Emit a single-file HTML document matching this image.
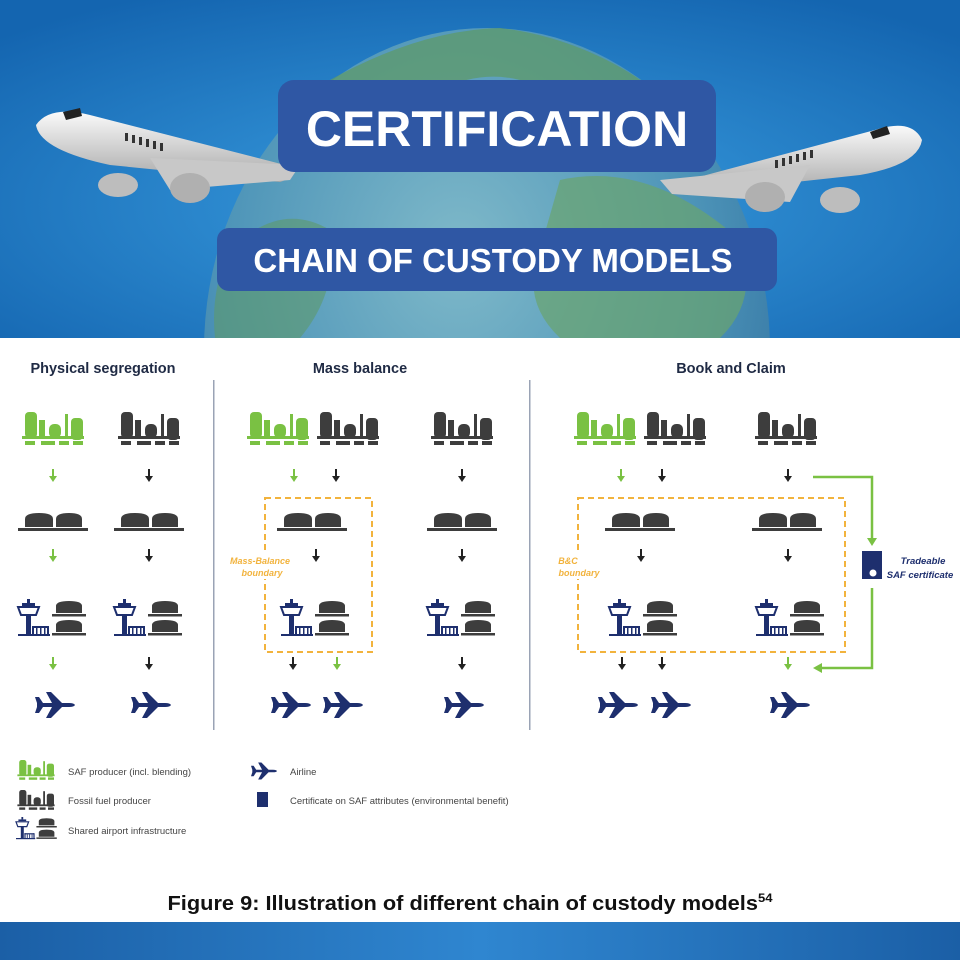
<!DOCTYPE html>
<html><head><meta charset="utf-8"><style>
html,body{margin:0;padding:0;background:#fff}
body{width:960px;height:960px;overflow:hidden;position:relative;font-family:"Liberation Sans",sans-serif}
</style></head><body>
<svg width="960" height="960" viewBox="0 0 960 960" xmlns="http://www.w3.org/2000/svg" style="position:absolute;left:0;top:0">
<defs>
<radialGradient id="sky" cx="0.5" cy="0.6" r="0.7">
<stop offset="0" stop-color="#3a9ee0"/><stop offset="1" stop-color="#1465b0"/></radialGradient>
<radialGradient id="globe" cx="0.45" cy="0.35" r="0.7">
<stop offset="0" stop-color="#7fb9c9"/><stop offset="0.6" stop-color="#4d94b8"/><stop offset="1" stop-color="#2f6e9e"/></radialGradient>
<linearGradient id="bot" x1="0" x2="1"><stop offset="0" stop-color="#1b5fa6"/><stop offset="0.5" stop-color="#2f86d0"/><stop offset="1" stop-color="#1b5fa6"/></linearGradient>
<linearGradient id="pl" x1="0" y1="0" x2="0" y2="1"><stop offset="0" stop-color="#fafafa"/><stop offset="1" stop-color="#a8a8a8"/></linearGradient>
<g id="fac">
<rect x="-28" y="0" width="12" height="26" rx="4"/>
<rect x="-14" y="8" width="6" height="18"/>
<rect x="-4" y="12" width="12" height="14" rx="5"/>
<rect x="12" y="2" width="3" height="24"/>
<rect x="18" y="6" width="12" height="22" rx="4"/>
<rect x="-31" y="24" width="62" height="3"/>
<rect x="-28" y="29" width="10" height="4"/><rect x="-12" y="29" width="14" height="4"/><rect x="6" y="29" width="10" height="4"/><rect x="20" y="29" width="10" height="4"/>
</g>
<g id="tanks" fill="#3d3d3d">
<path d="M-28,14 L-28,6 Q-28,0 -14,0 Q0,0 0,6 L0,14Z"/>
<path d="M3,14 L3,6 Q3,0 16,0 Q29,0 29,6 L29,14Z"/>
<rect x="-35" y="15" width="70" height="3"/>
</g>
<g id="tank1" fill="#3d3d3d">
<path d="M-13,12 L-13,5 Q-13,0 0,0 Q13,0 13,5 L13,12Z"/>
<rect x="-17" y="13" width="34" height="2.5"/>
</g>
<g id="air">
<g fill="#1e2f6e">
<rect x="-26" y="0" width="3" height="4"/>
<rect x="-31" y="4" width="13" height="3"/>
<path d="M-35,8 H-14 L-17,16 H-32Z" fill="none" stroke="#1e2f6e" stroke-width="2"/>
<rect x="-27" y="16" width="5" height="20"/>
<rect x="-21" y="27" width="16" height="2"/><rect x="-21" y="27" width="2" height="9"/><rect x="-17" y="29" width="1.5" height="7"/><rect x="-13" y="29" width="1.5" height="7"/><rect x="-9" y="29" width="1.5" height="7"/><rect x="-6" y="27" width="2" height="9"/>
<rect x="-35" y="35" width="32" height="2"/>
</g>
<use href="#tank1" transform="translate(16,2)"/>
<use href="#tank1" transform="translate(16,21)"/>
</g>
<path id="plane" fill="#1e2f6e" d="M-18,-2 H14 Q19,-2 20,0 Q19,2 14,2 H-18Z M-3,-2 L-9,-13 H-4 L7,-2Z M-3,2 L-9,13 H-4 L7,2Z M-18,-2 L-20,-8 H-16 L-12,-2Z M-18,2 L-20,8 H-16 L-12,2Z"/>
<g id="ab"><rect x="-1" y="-8" width="2" height="8"/><path d="M-4,-1 H4 L0,5Z"/></g>
</defs>

<rect x="0" y="0" width="960" height="340" fill="url(#sky)"/>
<ellipse cx="487" cy="350" rx="283" ry="322" fill="url(#globe)"/>
<path d="M330,80 Q420,30 500,28 Q600,40 680,110 Q640,150 600,140 Q560,120 520,80 Q480,70 440,90 Q380,120 330,80Z" fill="#5e9a6a" opacity="0.75"/>
<path d="M560,180 Q650,160 740,240 Q760,300 720,338 H560 Q520,300 540,250Z" fill="#6aa46d" opacity="0.7"/>
<path d="M230,250 Q280,200 330,230 Q340,290 300,338 H215 Q210,290 230,250Z" fill="#5e9a6a" opacity="0.6"/>
<rect x="0" y="338" width="960" height="2" fill="#fff"/>
<g>
<path d="M36,125 Q50,105 90,115 L285,165 Q300,176 280,182 L110,165 Q40,150 36,125Z" fill="url(#pl)"/>
<path d="M150,158 L300,165 L290,180 L170,190Z" fill="#c8c8c8"/>
<ellipse cx="118" cy="185" rx="20" ry="12" fill="#bdbdbd"/>
<ellipse cx="190" cy="188" rx="20" ry="15" fill="#b0b0b0"/>
<path d="M63,112 L80,108 L82,116 L66,120Z" fill="#222"/>
<g fill="#333"><rect x="125" y="133" width="3" height="8"/><rect x="132" y="135" width="3" height="8"/><rect x="139" y="137" width="3" height="8"/><rect x="146" y="139" width="3" height="8"/><rect x="153" y="141" width="3" height="8"/><rect x="160" y="143" width="3" height="8"/></g>
</g>
<g>
<path d="M922,140 Q912,118 875,130 L680,182 Q662,192 685,194 L860,175 Q918,165 922,140Z" fill="url(#pl)"/>
<path d="M810,165 L660,180 L672,194 L790,202Z" fill="#c8c8c8"/>
<ellipse cx="840" cy="200" rx="20" ry="13" fill="#bdbdbd"/>
<ellipse cx="765" cy="197" rx="20" ry="15" fill="#b0b0b0"/>
<path d="M870,132 L887,126 L890,134 L873,139Z" fill="#222"/>
<g fill="#333"><rect x="810" y="150" width="3" height="8"/><rect x="803" y="152" width="3" height="8"/><rect x="796" y="154" width="3" height="8"/><rect x="789" y="156" width="3" height="8"/><rect x="782" y="158" width="3" height="8"/><rect x="775" y="160" width="3" height="8"/></g>
</g>
<rect x="278" y="80" width="438" height="92" rx="16" fill="#2f57a4"/>
<text x="497" y="146" text-anchor="middle" font-size="50" font-weight="bold" fill="#fff" font-family="Liberation Sans, sans-serif">CERTIFICATION</text>
<rect x="217" y="228" width="560" height="63" rx="12" fill="#2f57a4"/>
<text x="493" y="272" text-anchor="middle" font-size="33" font-weight="bold" fill="#fff" font-family="Liberation Sans, sans-serif">CHAIN OF CUSTODY MODELS</text>

<rect x="0" y="340" width="960" height="582" fill="#fff"/>
<g font-family="Liberation Sans, sans-serif" font-weight="bold" font-size="14.5" fill="#1f2a44" text-anchor="middle">
<text x="103" y="373">Physical segregation</text>
<text x="360" y="373">Mass balance</text>
<text x="731" y="373">Book and Claim</text>
</g>
<rect x="213" y="380" width="1.5" height="350" fill="#9aa3b5"/>
<rect x="529" y="380" width="1.5" height="350" fill="#9aa3b5"/>

<use href="#fac" transform="translate(53,412)" fill="#7ac143"/>
<use href="#fac" transform="translate(149,412)" fill="#3d3d3d"/>
<use href="#fac" transform="translate(278,412)" fill="#7ac143"/>
<use href="#fac" transform="translate(348,412)" fill="#3d3d3d"/>
<use href="#fac" transform="translate(462,412)" fill="#3d3d3d"/>
<use href="#fac" transform="translate(605,412)" fill="#7ac143"/>
<use href="#fac" transform="translate(675,412)" fill="#3d3d3d"/>
<use href="#fac" transform="translate(786,412)" fill="#3d3d3d"/>

<use href="#ab" transform="translate(53,477)" fill="#7ac143"/>
<use href="#ab" transform="translate(149,477)" fill="#222"/>
<use href="#ab" transform="translate(294,477)" fill="#7ac143"/>
<use href="#ab" transform="translate(336,477)" fill="#222"/>
<use href="#ab" transform="translate(462,477)" fill="#222"/>
<use href="#ab" transform="translate(621,477)" fill="#7ac143"/>
<use href="#ab" transform="translate(662,477)" fill="#222"/>
<use href="#ab" transform="translate(788,477)" fill="#222"/>

<use href="#tanks" transform="translate(53,513)"/>
<use href="#tanks" transform="translate(149,513)"/>
<use href="#tanks" transform="translate(312,513)"/>
<use href="#tanks" transform="translate(462,513)"/>
<use href="#tanks" transform="translate(640,513)"/>
<use href="#tanks" transform="translate(787,513)"/>

<use href="#ab" transform="translate(53,557)" fill="#7ac143"/>
<use href="#ab" transform="translate(149,557)" fill="#222"/>
<use href="#ab" transform="translate(316,557)" fill="#222"/>
<use href="#ab" transform="translate(462,557)" fill="#222"/>
<use href="#ab" transform="translate(641,557)" fill="#222"/>
<use href="#ab" transform="translate(788,557)" fill="#222"/>

<use href="#air" transform="translate(53,599)"/>
<use href="#air" transform="translate(149,599)"/>
<use href="#air" transform="translate(316,599)"/>
<use href="#air" transform="translate(462,599)"/>
<use href="#air" transform="translate(644,599)"/>
<use href="#air" transform="translate(791,599)"/>

<use href="#ab" transform="translate(53,665)" fill="#7ac143"/>
<use href="#ab" transform="translate(149,665)" fill="#222"/>
<use href="#ab" transform="translate(293,665)" fill="#222"/>
<use href="#ab" transform="translate(337,665)" fill="#7ac143"/>
<use href="#ab" transform="translate(462,665)" fill="#222"/>
<use href="#ab" transform="translate(622,665)" fill="#222"/>
<use href="#ab" transform="translate(662,665)" fill="#222"/>
<use href="#ab" transform="translate(788,665)" fill="#7ac143"/>

<use href="#plane" transform="translate(55,705)"/>
<use href="#plane" transform="translate(151,705)"/>
<use href="#plane" transform="translate(291,705)"/>
<use href="#plane" transform="translate(343,705)"/>
<use href="#plane" transform="translate(464,705)"/>
<use href="#plane" transform="translate(618,705)"/>
<use href="#plane" transform="translate(671,705)"/>
<use href="#plane" transform="translate(790,705)"/>

<rect x="265" y="498" width="107" height="154" fill="none" stroke="#f2b33d" stroke-width="2" stroke-dasharray="6,4"/>
<rect x="578" y="498" width="267" height="154" fill="none" stroke="#f2b33d" stroke-width="2" stroke-dasharray="6,4"/>
<g font-family="Liberation Sans, sans-serif" font-weight="bold" font-style="italic" font-size="9" fill="#f2b33d" text-anchor="middle">
<rect x="232" y="553" width="58" height="26" fill="#fff"/>
<text x="260" y="564">Mass-Balance</text><text x="262" y="576">boundary</text>
<rect x="556" y="553" width="48" height="26" fill="#fff"/>
<text x="568" y="564">B&amp;C</text><text x="579" y="576">boundary</text>
</g>

<path d="M813,477 H872 V540" fill="none" stroke="#7ac143" stroke-width="2.5"/>
<path d="M867,538 H877 L872,546Z" fill="#7ac143"/>
<rect x="862" y="551" width="20" height="28" fill="#1e2f6e"/>
<circle cx="873" cy="573" r="3.5" fill="#fff"/>
<path d="M872,588 V668 H820" fill="none" stroke="#7ac143" stroke-width="2.5"/>
<path d="M822,663 V673 L813,668Z" fill="#7ac143"/>
<g font-family="Liberation Sans, sans-serif" font-weight="bold" font-style="italic" font-size="9.5" fill="#1e2f6e" text-anchor="middle">
<text x="923" y="564">Tradeable</text><text x="920" y="578">SAF certificate</text>
</g>

<use href="#fac" transform="translate(36,760) scale(0.6)" fill="#7ac143"/>
<use href="#fac" transform="translate(36,790) scale(0.6)" fill="#3d3d3d"/>
<use href="#air" transform="translate(37,817) scale(0.6)"/>
<use href="#plane" transform="translate(264,771) scale(0.65)"/>
<rect x="257" y="792" width="11" height="15" fill="#1e2f6e"/>
<g font-family="Liberation Sans, sans-serif" font-size="9.5" fill="#444">
<text x="68" y="775">SAF producer (incl. blending)</text>
<text x="68" y="804">Fossil fuel producer</text>
<text x="68" y="834">Shared airport infrastructure</text>
<text x="290" y="775">Airline</text>
<text x="290" y="804">Certificate on SAF attributes (environmental benefit)</text>
</g>
<text x="470" y="910" text-anchor="middle" font-family="Liberation Sans, sans-serif" font-weight="bold" font-size="20" fill="#111" textLength="605" lengthAdjust="spacingAndGlyphs">Figure 9: Illustration of different chain of custody models<tspan font-size="12" dy="-8">54</tspan></text>

<rect x="0" y="922" width="960" height="38" fill="url(#bot)"/>
</svg>
</body></html>
